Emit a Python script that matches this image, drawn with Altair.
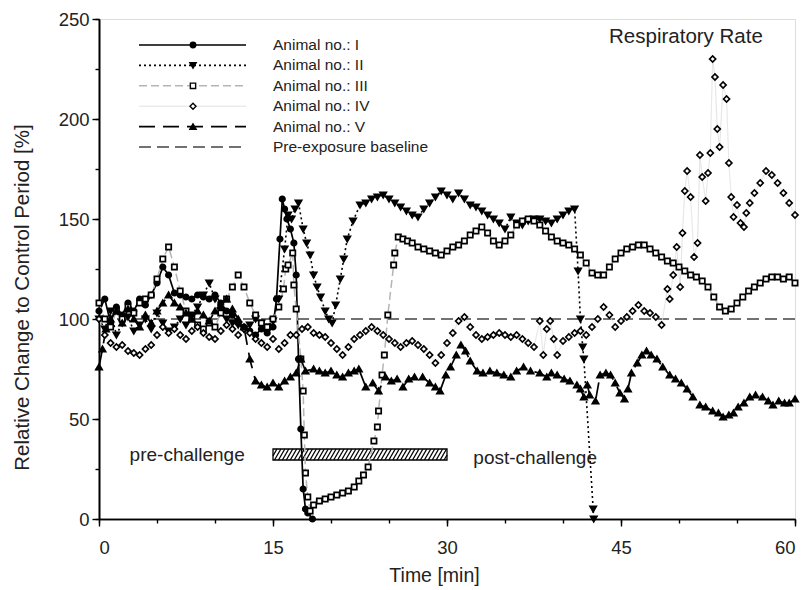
import altair as alt
import pandas as pd

FONT = "Liberation Sans"

# ---------------- data ----------------
t_I = [0, 0.5, 1, 1.5, 2, 2.5, 3, 3.5, 4, 4.5, 5, 5.5, 6, 6.5, 7, 7.5, 8, 8.5, 9, 9.5,
       10, 10.5, 11, 11.5, 12, 12.5, 13, 13.5, 14, 14.5, 15, 15.3, 15.6, 15.8, 16.0,
       16.2, 16.5, 16.8, 17.0, 17.2, 17.4, 17.6, 17.8, 18.0, 18.4]
v_I = [104, 110, 98, 106, 102, 108, 104, 110, 107, 112, 118, 126, 122, 113, 112, 111,
       110, 112, 111, 110, 112, 108, 104, 102, 98, 96, 94, 92, 95, 93, 96, 110, 140,
       160, 155, 150, 145, 138, 122, 80, 45, 15, 5, 3, 0]

t_II = [0, 0.5, 1, 1.5, 2, 2.5, 3, 3.5, 4, 4.5, 5, 5.5, 6, 6.5, 7, 7.5, 8, 8.5, 9, 9.5,
        10, 10.5, 11, 11.5, 12, 12.5, 13, 13.5, 14, 14.5, 15, 15.5, 16, 16.3, 16.6, 16.9,
        17.2, 17.6, 17.9, 18.2, 18.5, 18.8, 19.1, 19.5, 19.8, 20.1, 20.4, 20.8, 21.1,
        21.4, 21.9, 22.5, 23, 23.5, 24, 24.5, 25, 25.5, 26, 26.5, 27, 27.5, 28, 28.5,
        29, 29.5, 30, 30.5, 31, 31.5, 32, 32.5, 33, 33.5, 34, 34.5, 35, 35.5, 36, 36.5,
        37, 37.5, 38, 38.5, 39, 39.5, 40, 40.5, 41, 41.3, 41.5, 41.7, 41.8, 42.6, 42.65]
v_II = [100, 95, 104, 92, 98, 101, 94, 97, 100, 95, 103, 98, 94, 96, 100, 97, 102, 106,
        112, 118, 110, 104, 100, 98, 97, 95, 97, 100, 98, 96, 99, 110, 135, 152, 150,
        155, 158, 145, 138, 132, 122, 116, 111, 104, 100, 98, 107, 120, 130, 140, 149,
        157, 158, 160, 161, 162, 160, 158, 156, 154, 152, 151, 155, 158, 161, 164, 162,
        160, 163, 160, 157, 156, 154, 152, 150, 148, 145, 151, 148, 147, 149, 150, 150,
        149, 148, 150, 152, 154, 155, 124, 100, 86, 80, 5, 0]

t_III = [0, 0.5, 1, 1.5, 2, 2.5, 3, 3.5, 4, 4.5, 5, 5.5, 6, 6.5, 7, 7.5, 8, 8.5, 9, 9.5,
         10, 10.5, 11, 11.5, 12, 12.5, 13, 13.5, 14, 14.5, 15, 15.5, 15.9, 16.1, 16.3,
         16.7, 16.8, 17.0, 17.4, 17.6, 17.7, 17.8, 18.0, 18.2, 18.5, 19, 19.5, 20, 20.5,
         21, 21.5, 22, 22.4, 22.8, 23.2, 23.7, 24, 24.1, 24.4, 24.6, 24.9, 25.4, 25.5,
         25.8, 26.2, 26.6, 27, 27.5, 28, 28.5, 29, 29.5, 30, 30.5, 31, 31.5, 32, 32.5,
         33, 33.5, 34, 34.5, 35, 35.5, 36, 36.5, 37, 37.5, 38, 38.5, 39, 39.5, 40, 40.5,
         41, 41.5, 42, 42.5, 43, 43.5, 44, 44.5, 45, 45.5, 46, 46.5, 47, 47.5, 48, 48.5,
         49, 49.5, 50, 50.5, 51, 51.5, 52, 52.5, 53, 53.5, 54, 54.5, 55, 55.5, 56, 56.5,
         57, 57.5, 58, 58.5, 59, 59.5, 60]
v_III = [108, 100, 96, 104, 100, 106, 103, 108, 110, 112, 120, 130, 136, 126, 114, 104,
         100, 97, 95, 98, 96, 103, 110, 116, 122, 116, 108, 102, 98, 96, 100, 106, 115,
         125, 127, 133, 117, 105, 80, 64, 42, 23, 11, 4, 7, 9, 10, 11, 12, 13, 14, 16, 19,
         22, 26, 39, 46, 54, 72, 82, 102, 127, 133, 141, 140, 139, 138, 136, 135, 134,
         133, 132, 134, 136, 137, 139, 142, 144, 146, 143, 139, 137, 139, 142, 147, 149,
         150, 149, 147, 144, 141, 139, 138, 137, 135, 132, 128, 123, 122, 122, 126, 130,
         133, 135, 136, 137, 137, 135, 133, 131, 129, 128, 126, 124, 122, 121, 119, 116,
         111, 106, 104, 105, 108, 111, 114, 116, 118, 120, 121, 121, 120, 121, 118]

t_IV = [0, 0.5, 1, 1.5, 2, 2.5, 3, 3.5, 4, 4.5, 5, 5.5, 6, 6.5, 7, 7.5, 8, 8.5, 9, 9.5,
        10, 10.5, 11, 11.5, 12, 12.5, 13, 13.5, 14, 14.5, 15, 15.5, 16, 16.5, 17, 17.5,
        18, 18.5, 19, 19.5, 20, 20.5, 21, 21.5, 22, 22.5, 23, 23.5, 24, 24.5, 25, 25.5,
        26, 26.5, 27, 27.5, 28, 28.5, 29, 29.5, 30, 30.5, 31, 31.5, 32, 32.5, 33, 33.5,
        34, 34.5, 35, 35.5, 36, 36.5, 37, 37.5, 38, 38.3, 38.6, 38.9, 39.2, 39.5, 40,
        40.5, 41, 41.5, 42, 42.5, 43, 43.5, 44, 44.5, 45, 45.5, 46, 46.5, 47, 47.5, 48,
        48.5, 49, 49.2, 49.5, 49.8, 50.1, 50.3, 50.5, 50.7, 51, 51.3, 51.6, 51.8, 52,
        52.3, 52.5, 52.7, 52.9, 53.1, 53.3, 53.5, 53.8, 54.1, 54.3, 54.5, 54.7, 55, 55.3,
        55.6, 55.8, 56.1, 56.5, 57, 57.5, 58, 58.5, 59, 59.5, 60]
v_IV = [100, 92, 88, 86, 87, 84, 83, 82, 85, 87, 92, 96, 93, 95, 92, 90, 94, 96, 93, 91,
        90, 94, 97, 95, 92, 95, 93, 90, 88, 86, 90, 85, 88, 92, 92, 95, 96, 93, 92, 91,
        88, 85, 82, 86, 90, 92, 94, 96, 94, 92, 90, 88, 86, 88, 89, 87, 85, 82, 78, 82,
        88, 93, 99, 101, 96, 92, 90, 91, 92, 93, 92, 91, 92, 90, 88, 86, 99, 82, 95, 99,
        90, 82, 89, 91, 93, 94, 92, 96, 100, 106, 102, 96, 99, 101, 104, 107, 104, 103,
        101, 97, 115, 110, 122, 136, 116, 143, 164, 174, 161, 131, 138, 182, 171, 159,
        173, 183, 230, 221, 195, 186, 217, 210, 178, 161, 151, 157, 148, 146, 153, 158,
        163, 168, 174, 172, 168, 163, 158, 152]

t_V = [0, 0.3, 0.6, 1, 1.5, 2, 2.5, 3, 3.5, 4, 4.5, 5, 5.5, 6, 6.5, 7, 7.5, 8, 8.5, 9,
       9.5, 10, 10.5, 11, 11.5, 12, 12.5, 13, 13.5, 14, 14.5, 15, 15.5, 16, 16.5, 17,
       17.4, 17.8, 18.5, 19, 19.5, 20, 20.5, 21, 21.5, 22, 22.4, 23, 23.6, 24.1, 24.7,
       25.2, 25.7, 26.2, 26.7, 27.2, 27.9, 28.5, 29, 29.4, 29.9, 30.3, 30.8, 31.2, 31.6,
       32, 32.6, 33.1, 33.7, 34.3, 34.9, 35.5, 36, 36.6, 37.2, 38, 38.6, 39, 39.5, 40.1,
       40.6, 41.2, 41.5, 41.8, 42.1, 42.3, 42.8, 43.2, 43.7, 44.1, 44.5, 44.9, 45.3,
       45.6, 45.9, 46.4, 46.8, 47.2, 47.6, 48.1, 48.6, 49.2, 49.7, 50.2, 50.7, 51.2,
       51.8, 52.3, 52.9, 53.4, 53.8, 54.3, 54.7, 55.1, 55.6, 56.1, 56.6, 57.2, 57.7,
       58.1, 58.6, 59.1, 59.5, 60]
v_V = [76, 85, 95, 100, 104, 98, 105, 100, 96, 102, 98, 104, 108, 112, 108, 106, 103,
       100, 104, 102, 99, 104, 107, 110, 105, 100, 96, 80, 69, 67, 66, 68, 66, 69, 71, 73,
       80, 74, 75, 74, 73, 74, 72, 71, 73, 74, 75, 66, 68, 64, 71, 69, 70, 66, 70, 71,
       71, 68, 66, 64, 72, 76, 82, 87, 84, 79, 74, 73, 74, 73, 72, 71, 74, 76, 74, 73,
       71, 73, 72, 70, 69, 67, 65, 61, 67, 62, 59, 72, 73, 72, 68, 63, 60, 65, 73, 78,
       82, 84, 82, 80, 76, 72, 70, 68, 65, 61, 57, 56, 54, 53, 51, 52, 53, 56, 58, 61,
       62, 61, 59, 57, 59, 58, 58, 60]

labels = ["Animal no.: I", "Animal no.: II", "Animal no.: III", "Animal no.: IV",
          "Animal no.: V", "Pre-exposure baseline"]
baseline_value = 100
challenge_start, challenge_end = 15, 30
x_major = [0, 15, 30, 45, 60]
x_minor = [0, 5, 10, 15, 20, 25, 30, 35, 40, 45, 50, 55, 60]
y_major = [0, 50, 100, 150, 200, 250]
y_minor = [0, 25, 50, 75, 100, 125, 150, 175, 200, 225, 250]

# ---------------- styling ----------------
styles = [
    dict(t=t_I, v=v_I, shape="circle", fill="black", line="black", dash=[1, 0], lw=1.7, size=30),
    dict(t=t_II, v=v_II, shape="triangle-down", fill="black", line="black", dash=[2, 3], lw=1.6, size=40),
    dict(t=t_III, v=v_III, shape="square", fill="white", line="#b5b5b5", dash=[8, 4], lw=1.5, size=28),
    dict(t=t_IV, v=v_IV, shape="diamond", fill="white", line="#e2e2e2", dash=[1, 0], lw=1.0, size=36),
    dict(t=t_V, v=v_V, shape="triangle-up", fill="black", line="black", dash=[16, 8], lw=1.7, size=40),
]

xs = alt.Scale(domain=[0, 60], nice=False, zero=False)
ys = alt.Scale(domain=[0, 250], nice=False, zero=False)

layers = []

# axes (minor + major) as separate layers with independent axes on shared scales
ax_df = pd.DataFrame({"t": [0, 60], "v": [0, 250]})
common = dict(grid=False, domainColor="black", domainWidth=1.6, tickColor="black",
              tickWidth=1.4, labelFont=FONT, titleFont=FONT, labelColor="#222",
              titleColor="#222", titleFontWeight="normal")
minor_layer = alt.Chart(ax_df).mark_point(opacity=0).encode(
    x=alt.X("t:Q", scale=xs, axis=alt.Axis(orient="bottom", values=x_minor, labels=False,
                                            tickSize=4, title=None, **common)),
    y=alt.Y("v:Q", scale=ys, axis=alt.Axis(orient="left", values=y_minor, labels=False,
                                            tickSize=4, title=None, **common)),
)
major_layer = alt.Chart(ax_df).mark_point(opacity=0).encode(
    x=alt.X("t:Q", scale=xs, axis=alt.Axis(orient="bottom", values=x_major, tickSize=7,
                                            labelFontSize=18.5, labelPadding=12,
                                            title="Time [min]", titleFontSize=19.5,
                                            titlePadding=10, titleX=335, **common)),
    y=alt.Y("v:Q", scale=ys, axis=alt.Axis(orient="left", values=y_major, tickSize=7,
                                            labelFontSize=18.5, labelPadding=3,
                                            title="Relative Change to Control Period [%]",
                                            titleFontSize=20.5, titlePadding=26, titleY=278,
                                            **common)),
)
layers += [minor_layer, major_layer]

X = lambda: alt.X("t:Q", scale=xs, axis=None)
Y = lambda: alt.Y("v:Q", scale=ys, axis=None)

# baseline
base_df = pd.DataFrame({"t": [0, 60], "v": [baseline_value, baseline_value]})
layers.append(alt.Chart(base_df).mark_line(color="#444", strokeDash=[12, 6], strokeWidth=1.3)
              .encode(x=X(), y=Y()))

# challenge bar with hatching
bar_lo, bar_hi = 29.5, 35
layers.append(alt.Chart(pd.DataFrame({"a": [challenge_start], "b": [challenge_end],
                                      "lo": [bar_lo], "hi": [bar_hi]}))
              .mark_rect(fill="white", stroke="black", strokeWidth=1.3)
              .encode(x=alt.X("a:Q", scale=xs, axis=None), x2="b:Q",
                      y=alt.Y("lo:Q", scale=ys, axis=None), y2="hi:Q"))
w, step = 0.55, 0.34
segs = []
k = 0
while True:
    t0 = challenge_start - w + k * step
    if t0 >= challenge_end:
        break
    t1 = t0 + w
    xa, ya = t0, bar_lo
    xb, yb = t1, bar_hi
    if xa < challenge_start:
        ya = bar_lo + (challenge_start - t0) / w * (bar_hi - bar_lo)
        xa = challenge_start
    if xb > challenge_end:
        yb = bar_lo + (challenge_end - t0) / w * (bar_hi - bar_lo)
        xb = challenge_end
    segs.append(dict(xa=xa, xb=xb, ya=ya, yb=yb))
    k += 1
layers.append(alt.Chart(pd.DataFrame(segs)).mark_rule(color="black", strokeWidth=1.3)
              .encode(x=alt.X("xa:Q", scale=xs, axis=None), x2="xb:Q",
                      y=alt.Y("ya:Q", scale=ys, axis=None), y2="yb:Q"))

# series
for s in styles:
    df = pd.DataFrame({"t": s["t"], "v": s["v"]})
    layers.append(alt.Chart(df).mark_line(color=s["line"], strokeDash=s["dash"],
                                          strokeWidth=s["lw"]).encode(x=X(), y=Y()))
for s in styles:
    df = pd.DataFrame({"t": s["t"], "v": s["v"]})
    layers.append(alt.Chart(df).mark_point(shape=s["shape"], filled=True, fill=s["fill"],
                                           stroke="black", strokeWidth=1.7, size=s["size"],
                                           opacity=1).encode(x=X(), y=Y()))

# annotations
def text(label, t, v, size, align="center"):
    return alt.Chart(pd.DataFrame({"t": [t], "v": [v], "s": [label]})).mark_text(
        font=FONT, fontSize=size, color="#222", align=align, baseline="middle"
    ).encode(x=X(), y=Y(), text="s:N")

layers.append(text("pre-challenge", 7.6, 32, 19))
layers.append(text("post-challenge", 37.6, 30.5, 19))
layers.append(text("Respiratory Rate", 50.6, 241, 20.5))

# manual legend (pixel positions inside the plot area)
leg_styles = styles + [dict(shape=None, line="#444", dash=[12, 6], lw=1.3)]
for i, (lab, s) in enumerate(zip(labels, leg_styles)):
    yy = 26 + i * 20.4
    layers.append(alt.Chart(pd.DataFrame({"a": [0]})).mark_rule(
        color=s["line"], strokeDash=s["dash"], strokeWidth=s["lw"]).encode(
        x=alt.value(40), x2=alt.value(147), y=alt.value(yy)))
    if s["shape"]:
        layers.append(alt.Chart(pd.DataFrame({"a": [0]})).mark_point(
            shape=s["shape"], filled=True, fill=s["fill"], stroke="black", strokeWidth=1.4,
            size=s["size"], opacity=1).encode(x=alt.value(94), y=alt.value(yy)))
    layers.append(alt.Chart(pd.DataFrame({"a": [0]})).mark_text(
        font=FONT, fontSize=15.5, color="#222", align="left", baseline="middle").encode(
        x=alt.value(174), y=alt.value(yy), text=alt.value(lab)))

chart = alt.layer(*layers).resolve_axis(x="independent", y="independent").properties(
    width=696, height=500,
    padding={"left": 99, "top": 19, "right": 9, "bottom": 71},
    autosize=alt.AutoSizeParams(type="none"),
).configure_view(stroke="black", strokeWidth=1.6).configure(background="white")

chart.save("out.html", embed_options={"renderer": "svg", "actions": False})
